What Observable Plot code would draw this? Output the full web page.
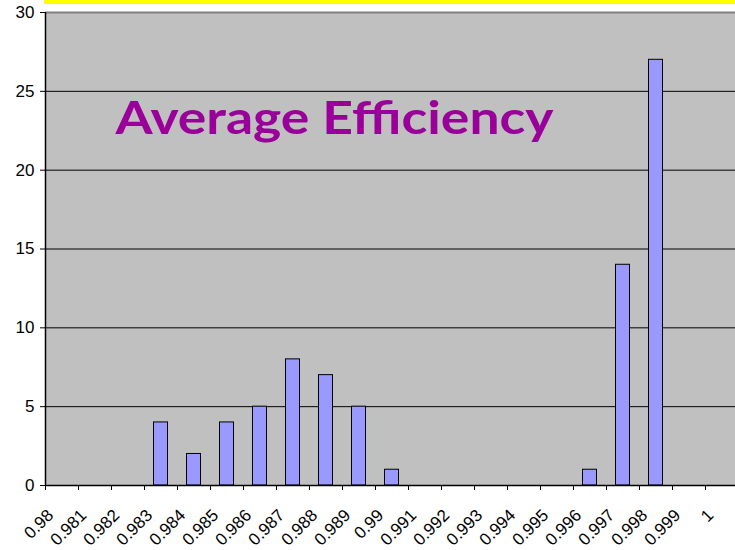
<!DOCTYPE html>
<html>
<head>
<meta charset="utf-8">
<script src="https://cdn.jsdelivr.net/npm/d3@7"></script>
<script src="https://cdn.jsdelivr.net/npm/@observablehq/plot@0.6"></script>
<style>
  body { margin: 0; background: #fff; }
  #band { margin-left: 44px; width: 691px; height: 4px; background: #ffff00; }
  #chart svg { display: block; }
</style>
</head>
<body>
<div id="band"></div>
<div id="chart"></div>
<script>
const binStarts = [0.983, 0.984, 0.985, 0.986, 0.987, 0.988, 0.989, 0.990, 0.996, 0.997, 0.998];
const counts    = [4, 2, 4, 5, 8, 7, 5, 1, 1, 14, 27];
const tickValues = [0.980, 0.981, 0.982, 0.983, 0.984, 0.985, 0.986, 0.987, 0.988, 0.989, 0.990,
                    0.991, 0.992, 0.993, 0.994, 0.995, 0.996, 0.997, 0.998, 0.999, 1.000];
const tickLabels = ["0.98", "0.981", "0.982", "0.983", "0.984", "0.985", "0.986", "0.987", "0.988", "0.989", "0.99",
                    "0.991", "0.992", "0.993", "0.994", "0.995", "0.996", "0.997", "0.998", "0.999", "1"];
const yTicks = [0, 5, 10, 15, 20, 25, 30];
const gridValues = [5, 10, 15, 20, 25];
const title = "Average Efficiency";

const data = binStarts.map((b, i) => ({ x1: b, x2: b + 0.001, count: counts[i] }));

const chart = Plot.plot({
  width: 735,
  height: 546,
  marginLeft: 45,
  marginRight: 0,
  marginTop: 8,
  marginBottom: 65,
  style: { fontFamily: "Liberation Sans, Arial, sans-serif", fontSize: "16px", color: "#000", background: "#fff" },
  x: { domain: [0.98, 0.98 + 690 / 33 * 0.001], range: [45, 735] },
  y: { domain: [0, 30] },
  marks: [
    Plot.frame({ fill: "#c0c0c0", stroke: "none" }),
    Plot.ruleY(gridValues, { stroke: "#000", strokeWidth: 1 }),
    Plot.ruleY([30], { stroke: "#808080", strokeWidth: 2 }),
    Plot.rect(data, { x1: "x1", x2: "x2", y1: 0, y2: "count", insetLeft: 9.5, insetRight: 9.5, fill: "#9999ff", stroke: "#000", strokeWidth: 1 }),
    Plot.ruleX([0.98], { stroke: "#000", strokeWidth: 1.5 }),
    Plot.ruleY([0], { stroke: "#000", strokeWidth: 1.5 }),
    Plot.axisY({ ticks: yTicks, tickSize: 5, tickPadding: 6, fontSize: 17, label: null, tickFormat: d => String(d) }),
    Plot.axisX({ ticks: tickValues, tickSize: 5, text: null, label: null }),
    Plot.axisX({ ticks: tickValues, tickSize: 0, tickPadding: 27, dx: 5, tickRotate: -45, fontSize: 17, label: null,
                 tickFormat: (d, i) => tickLabels[i] }),
    Plot.text([title], { frameAnchor: "top-left", dx: 70, dy: 121, text: d => d, fill: "#990099",
                         fontSize: 45, fontWeight: "bold", fontFamily: "Comic Sans MS, Lato, sans-serif",
                         textAnchor: "start", lineAnchor: "bottom" })
  ]
});

document.getElementById("chart").appendChild(chart);
// fit title width to the reference
chart.querySelectorAll("text").forEach(t => {
  if (t.textContent === title) { t.setAttribute("textLength", 438); t.setAttribute("lengthAdjust", "spacingAndGlyphs"); }
});
</script>
</body>
</html>
